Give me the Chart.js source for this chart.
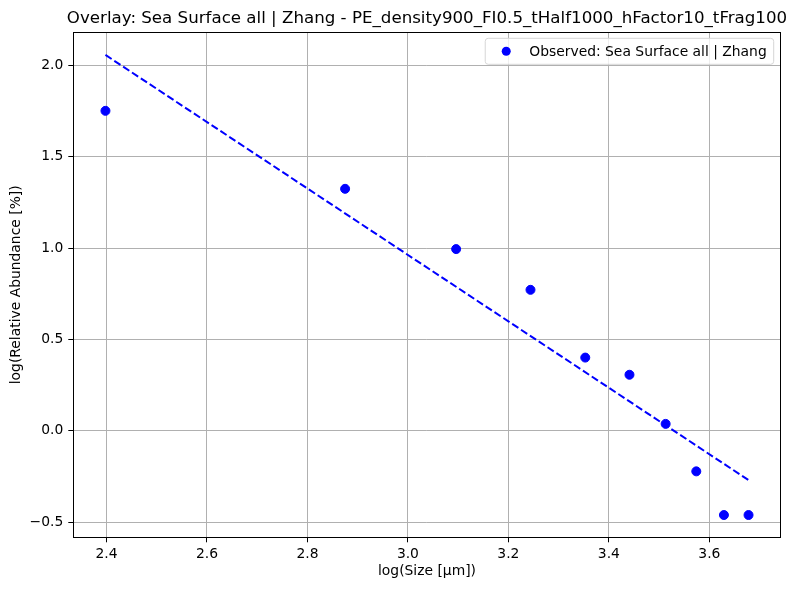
<!DOCTYPE html>
<html>
<head>
<meta charset="utf-8">
<script src="https://cdn.jsdelivr.net/npm/chart.js@4/dist/chart.umd.min.js"></script>
<style>
  html, body { margin: 0; padding: 0; background: #fff; }
</style>
</head>
<body>
<canvas id="grafico" width="795" height="590"></canvas>
<script>
// datos observados (log tamaño, log abundancia)
let logTamano = [2.398, 2.875, 3.096, 3.244, 3.353, 3.441, 3.513, 3.574, 3.629, 3.678];
let logAbundancia = [1.752, 1.325, 0.995, 0.772, 0.401, 0.307, 0.038, -0.222, -0.461, -0.461];

// recta del modelo (extremos)
let modeloX = [2.398, 3.678];
let modeloY = [2.058, -0.270];

let ticksX = [2.4, 2.6, 2.8, 3.0, 3.2, 3.4, 3.6];
let ticksY = [-0.5, 0.0, 0.5, 1.0, 1.5, 2.0];

let titulo = 'Overlay: Sea Surface all | Zhang - PE_density900_FI0.5_tHalf1000_hFactor10_tFrag100';
let etiquetaLeyenda = 'Observed: Sea Surface all | Zhang';

const fuente = '"DejaVu Sans", sans-serif';
const menos = v => v.toFixed(1).replace('-', '\u2212');

let puntos = logTamano.map((x, i) => ({ x: x, y: logAbundancia[i] }));
let recta = modeloX.map((x, i) => ({ x: x, y: modeloY[i] }));

// marco, titulo y leyenda al estilo matplotlib
let extras = {
  id: 'extras',
  afterDraw(chart) {
    const ctx = chart.ctx;
    const a = chart.chartArea;
    ctx.save();
    ctx.strokeStyle = '#000';
    ctx.lineWidth = 1;
    ctx.strokeRect(Math.round(a.left) + 0.5, Math.round(a.top) + 0.5,
      Math.round(a.right - a.left), Math.round(a.bottom - a.top));

    ctx.fillStyle = '#000';
    ctx.font = '16.67px ' + fuente;
    ctx.textAlign = 'center';
    ctx.textBaseline = 'alphabetic';
    ctx.fillText(titulo, (a.left + a.right) / 2, a.top - 9);

    // leyenda
    ctx.font = '13.89px ' + fuente;
    const w = ctx.measureText(etiquetaLeyenda).width + 51;
    const h = 26;
    const x0 = a.right - 7 - w;
    const y0 = a.top + 6;
    ctx.beginPath();
    ctx.roundRect(x0, y0, w, h, 3);
    ctx.fillStyle = 'rgba(255,255,255,0.8)';
    ctx.fill();
    ctx.strokeStyle = '#d6d6d6';
    ctx.stroke();
    ctx.beginPath();
    ctx.arc(x0 + 21, y0 + h / 2, 4.5, 0, Math.PI * 2);
    ctx.fillStyle = '#0000ff';
    ctx.fill();
    ctx.fillStyle = '#000';
    ctx.textAlign = 'left';
    ctx.textBaseline = 'middle';
    ctx.fillText(etiquetaLeyenda, x0 + 44, y0 + h / 2 + 1);
    ctx.restore();
  }
};

let config = {
  type: 'scatter',
  data: {
    datasets: [
      {
        label: etiquetaLeyenda,
        data: puntos,
        backgroundColor: '#0000ff',
        borderColor: '#0000ff',
        pointRadius: 4.5,
        pointHoverRadius: 4.5,
        order: 2
      },
      {
        type: 'line',
        label: 'Modelo',
        data: recta,
        borderColor: '#0000ff',
        borderWidth: 2,
        borderDash: [7.4, 3.2],
        pointRadius: 0,
        fill: false,
        order: 1
      }
    ]
  },
  options: {
    responsive: false,
    animation: false,
    devicePixelRatio: 1,
    layout: { padding: { top: 32.3, right: 14.3, left: 0, bottom: 0 } },
    plugins: {
      legend: { display: false },
      title: { display: false },
      tooltip: { enabled: false }
    },
    scales: {
      x: {
        type: 'linear',
        min: 2.334,
        max: 3.742,
        afterFit: s => { s.height = 52.7; },
        afterBuildTicks: s => { s.ticks = ticksX.map(v => ({ value: v })); },
        ticks: {
          color: '#000',
          font: { family: fuente, size: 13.89 },
          padding: 4,
          maxRotation: 0,
          callback: v => menos(v)
        },
        grid: { color: '#b0b0b0', lineWidth: 1, tickLength: 5, tickColor: '#000' },
        border: { display: false },
        title: {
          display: true,
          text: 'log(Size [μm])',
          color: '#000',
          font: { family: fuente, size: 13.89 },
          padding: { top: 4, bottom: 10 }
        }
      },
      y: {
        type: 'linear',
        min: -0.583,
        max: 2.182,
        afterFit: s => { s.width = 73.3; },
        afterBuildTicks: s => { s.ticks = ticksY.map(v => ({ value: v })); },
        ticks: {
          color: '#000',
          font: { family: fuente, size: 13.89 },
          padding: 5,
          callback: v => menos(v)
        },
        grid: { color: '#b0b0b0', lineWidth: 1, tickLength: 5, tickColor: '#000' },
        border: { display: false },
        title: {
          display: true,
          text: 'log(Relative Abundance [%])',
          color: '#000',
          font: { family: fuente, size: 13.89 },
          padding: { top: 8, bottom: 4 }
        }
      }
    }
  },
  plugins: [extras]
};

new Chart(document.getElementById('grafico'), config);
</script>
</body>
</html>
